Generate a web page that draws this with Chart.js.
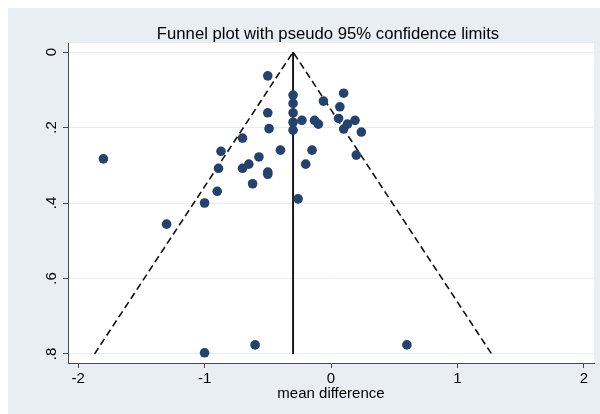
<!DOCTYPE html>
<html>
<head>
<meta charset="utf-8">
<script src="https://cdn.jsdelivr.net/npm/chart.js@4.4.1/dist/chart.umd.min.js"></script>
<style>
  html, body { margin: 0; padding: 0; background: #ffffff; }
  #wrap { width: 600px; height: 414px; position: relative; }
</style>
</head>
<body>
<div id="wrap"><canvas id="funnel" width="600" height="414"></canvas></div>
<script>
// Text
const chartTitle = 'Funnel plot with pseudo 95% confidence limits';
const xAxisTitle = 'mean difference';

// Axis ticks
const xTicks = [-2, -1, 0, 1, 2];
const yTicks = [0, 0.2, 0.4, 0.6, 0.8];
const yTickLabels = ['0', '.2', '.4', '.6', '.8'];

// Study estimates: mean difference and its standard error
const meanDiff = [-0.50, -1.80, -0.30, -0.30, -0.30, -0.30, -0.30, -0.50, -0.49, -0.23,
                  -0.13, -0.10, -0.06, 0.10, 0.07, 0.06, 0.10, 0.13, 0.19, 0.24,
                  0.20, -0.70, -0.87, -0.40, -0.15, -0.57, -0.65, -0.70, -0.89, -0.50,
                  -0.50, -0.20, -0.62, -0.90, -1.00, -0.26, -1.30, -1.00, -0.60, 0.60];
const stdErr   = [0.063, 0.283, 0.114, 0.136, 0.161, 0.186, 0.207, 0.161, 0.203, 0.181,
                  0.181, 0.191, 0.130, 0.109, 0.145, 0.176, 0.204, 0.191, 0.181, 0.212,
                  0.273, 0.228, 0.263, 0.260, 0.260, 0.278, 0.297, 0.308, 0.308, 0.318,
                  0.324, 0.297, 0.349, 0.369, 0.400, 0.389, 0.456, 0.797, 0.776, 0.776];

// Pooled estimate (vertical line)
const pooledX = [-0.30, -0.30];
const pooledY = [0, 0.80];

// Pseudo 95% confidence limits (funnel)
const limitX = [-1.87, -0.30, 1.27];
const limitY = [0.80, 0, 0.80];

const zip = (xs, ys) => xs.map((x, i) => ({ x: x, y: ys[i] }));

const FONT = '"Liberation Sans", Arial, Helvetica, sans-serif';
const BG = '#e8eef1';

const frame = {
  id: 'frame',
  beforeDraw(chart) {
    const { ctx, chartArea: a } = chart;
    ctx.save();
    ctx.fillStyle = '#ffffff';
    ctx.fillRect(0, 0, chart.width, chart.height);
    ctx.fillStyle = BG;
    ctx.fillRect(8, 8, chart.width - 8, chart.height - 8);
    ctx.fillStyle = '#ffffff';
    ctx.fillRect(a.left, a.top, a.right - a.left, a.bottom - a.top);
    ctx.restore();
  },
  afterDraw(chart) {
    const { ctx, chartArea: a } = chart;
    const ys = chart.scales.y;
    ctx.save();
    // chart title
    ctx.fillStyle = '#000000';
    ctx.font = '16.7px ' + FONT;
    ctx.textAlign = 'center';
    ctx.textBaseline = 'alphabetic';
    ctx.fillText(chartTitle, (a.left + a.right) / 2 - 3, 39);
    // vertical axis labels, rotated
    ctx.font = '15px ' + FONT;
    ys.ticks.forEach((t) => {
      const py = ys.getPixelForValue(t.value);
      ctx.save();
      ctx.translate(a.left - 12, py);
      ctx.rotate(-Math.PI / 2);
      ctx.textAlign = 'center';
      ctx.textBaseline = 'alphabetic';
      ctx.fillText(yTickLabels[yTicks.indexOf(t.value)] ?? String(t.value), 0, 0);
      ctx.restore();
    });
    ctx.restore();
  }
};

new Chart(document.getElementById('funnel'), {
  type: 'scatter',
  data: {
    datasets: [
      {
        label: 'studies',
        data: zip(meanDiff, stdErr),
        backgroundColor: '#23426e',
        borderWidth: 0,
        pointRadius: 4.8,
        pointHoverRadius: 4.8
      },
      {
        label: 'pooled',
        type: 'line',
        data: zip(pooledX, pooledY),
        borderColor: '#111111',
        borderWidth: 1.9,
        pointRadius: 0,
        fill: false
      },
      {
        label: 'limits',
        type: 'line',
        data: zip(limitX, limitY),
        borderColor: '#111111',
        borderWidth: 1.6,
        borderDash: [7, 4],
        pointRadius: 0,
        fill: false
      }
    ]
  },
  options: {
    responsive: false,
    animation: false,
    devicePixelRatio: 1,
    layout: { padding: { top: 43, right: 6, bottom: 0, left: 0 } },
    plugins: {
      legend: { display: false },
      tooltip: { enabled: false },
      title: { display: false }
    },
    scales: {
      x: {
        type: 'linear',
        min: -2.08,
        max: 2.08,
        afterBuildTicks(scale) { scale.ticks = xTicks.map(v => ({ value: v })); },
        afterFit(scale) { scale.height = 51; },
        border: { display: true, color: '#4a4a4a', width: 1 },
        grid: { drawOnChartArea: false, drawTicks: true, tickLength: 5, tickColor: '#4a4a4a' },
        ticks: { color: '#000000', font: { family: FONT, size: 15 }, padding: 2,
                 callback: v => String(v) },
        title: { display: true, text: xAxisTitle, color: '#000000',
                 font: { family: FONT, size: 15 }, padding: { top: 0, bottom: 11 } }
      },
      y: {
        type: 'linear',
        reverse: true,
        min: -0.024,
        max: 0.824,
        afterBuildTicks(scale) { scale.ticks = yTicks.map(v => ({ value: v })); },
        afterFit(scale) { scale.width = 68; },
        border: { display: true, color: '#4a4a4a', width: 1 },
        grid: { color: '#e7edf0', lineWidth: 1, drawTicks: true, tickLength: 5, tickColor: '#4a4a4a' },
        ticks: { display: false }
      }
    }
  },
  plugins: [frame]
});
</script>
</body>
</html>
